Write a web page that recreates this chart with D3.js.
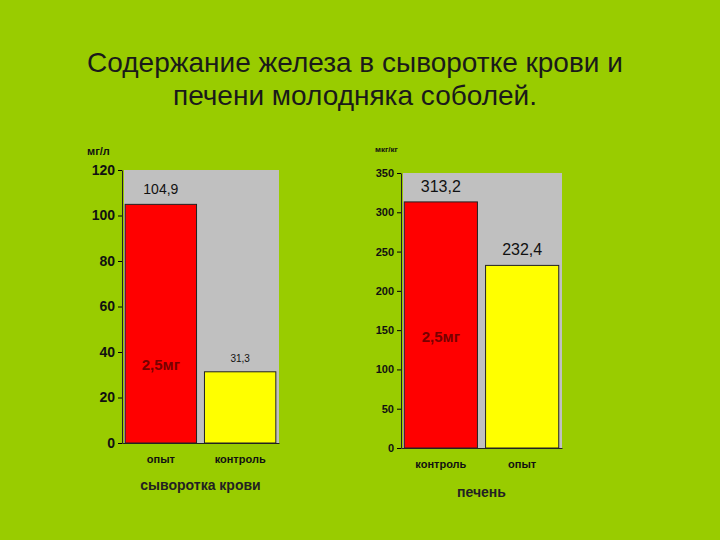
<!DOCTYPE html>
<html><head><meta charset="utf-8">
<script src="https://cdn.jsdelivr.net/npm/d3@7"></script>
<style>
body{margin:0;background:#99cc00;}
text{font-family:"Liberation Sans",Arial,sans-serif;}
</style></head>
<body>
<svg id="c" width="720" height="540"></svg>
<script>
const titleLines = ["Содержание железа в сыворотке крови и", "печени молодняка соболей."];

const bloodCats = ["опыт", "контроль"];
const bloodVals = [104.9, 31.3];
const bloodLabels = ["104,9", "31,3"];
const bloodTicks = [0, 20, 40, 60, 80, 100, 120];

const liverCats = ["контроль", "опыт"];
const liverVals = [313.2, 232.4];
const liverLabels = ["313,2", "232,4"];
const liverTicks = [0, 50, 100, 150, 200, 250, 300, 350];

const colors = ["#ff0000", "#ffff00"];

const svg = d3.select("#c");

svg.selectAll(".title").data(titleLines).join("text")
    .attr("x", 355).attr("y", (d, i) => 72 + i * 33)
    .attr("text-anchor", "middle").style("font-size", "28px").style("fill", "#1a1a1a")
    .text(d => d);

function chart(o) {
    const g = svg.append("g");
    const x = d3.scaleBand().domain(o.cats).range([o.x0, o.x1]).paddingInner(0.1).paddingOuter(0.04);
    const y = d3.scaleLinear().domain([0, o.max]).range([o.y0, o.y1]);

    g.append("rect").attr("x", o.x0 + 2).attr("y", o.y1)
        .attr("width", o.x1 - o.x0 - 2).attr("height", o.y0 - o.y1).style("fill", "#c0c0c0");

    g.selectAll(".bar").data(o.vals).join("rect")
        .attr("x", (d, i) => x(o.cats[i])).attr("y", d => y(d))
        .attr("width", x.bandwidth()).attr("height", d => o.y0 - y(d))
        .style("fill", (d, i) => colors[i]).style("stroke", "#222").style("stroke-width", 1);

    const ya = g.append("g").attr("transform", `translate(${o.x0},0)`)
        .call(d3.axisLeft(y).tickValues(o.ticks).tickSize(4).tickSizeOuter(0));
    ya.selectAll("text").style("font-size", o.tickSize).style("font-weight", "bold").style("fill", "#111");
    ya.select(".domain").style("stroke", "#222");

    const xa = g.append("g").attr("transform", `translate(0,${o.y0})`)
        .call(d3.axisBottom(x).tickSize(0).tickPadding(12));
    xa.selectAll("text").style("font-size", "11px").style("font-weight", "bold").style("fill", "#111");
    xa.select(".domain").style("stroke", "#222");

    g.selectAll(".vl").data(o.vals).join("text")
        .attr("x", (d, i) => x(o.cats[i]) + x.bandwidth() / 2)
        .attr("y", d => y(d) - 10)
        .attr("text-anchor", "middle")
        .style("font-size", (d, i) => o.labelSizes[i]).style("fill", "#111")
        .text((d, i) => o.labels[i]);

    g.append("text").attr("x", x(o.cats[o.redIdx]) + x.bandwidth() / 2).attr("y", y(o.mgAt))
        .attr("text-anchor", "middle").style("font-size", "15px").style("font-weight", "bold")
        .style("fill", "#700").text("2,5мг");

    g.append("text").attr("x", o.unitX).attr("y", o.unitY)
        .style("font-size", o.unitSize).style("font-weight", "bold").style("fill", "#111").text(o.unit);

    g.append("text").attr("x", (o.x0 + o.x1) / 2).attr("y", o.titleY)
        .attr("text-anchor", "middle").style("font-size", "14px").style("font-weight", "bold")
        .style("fill", "#222").text(o.title);
}

chart({cats: bloodCats, vals: bloodVals, labels: bloodLabels, ticks: bloodTicks, max: 120,
    x0: 122, x1: 279, y0: 443, y1: 170, tickSize: "14px", labelSizes: ["14px", "10px"],
    redIdx: 0, mgAt: 32, unit: "мг/л", unitX: 87, unitY: 155, unitSize: "11px",
    title: "сыворотка крови", titleY: 490});

chart({cats: liverCats, vals: liverVals, labels: liverLabels, ticks: liverTicks, max: 350,
    x0: 401, x1: 562, y0: 448, y1: 173, tickSize: "11px", labelSizes: ["16px", "16px"],
    redIdx: 0, mgAt: 135, unit: "мкг/кг", unitX: 375, unitY: 152, unitSize: "8px",
    title: "печень", titleY: 497});
</script>
</body></html>
